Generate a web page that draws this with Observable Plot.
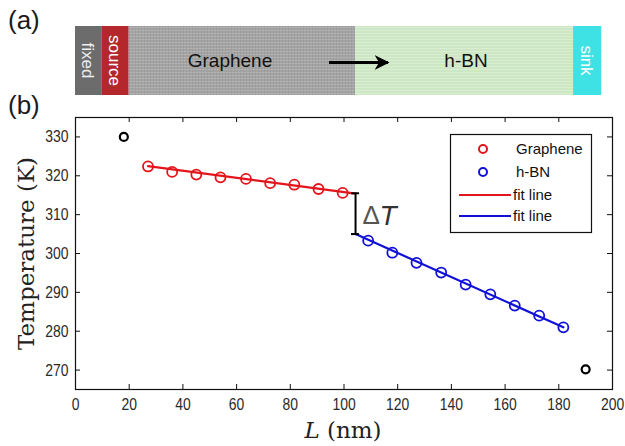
<!DOCTYPE html>
<html><head><meta charset="utf-8">
<script src="https://cdn.jsdelivr.net/npm/d3@7"></script>
<script src="https://cdn.jsdelivr.net/npm/@observablehq/plot@0.6"></script>
<style>html,body{margin:0;padding:0;background:#fff} #chart svg{display:block}</style>
</head><body><div id="chart"></div>
<script>
// ---- data ----
const xTicks = [0, 20, 40, 60, 80, 100, 120, 140, 160, 180, 200];
const yTicks = [270, 280, 290, 300, 310, 320, 330];
const grapheneL = [27, 36, 45, 54, 63.5, 72.5, 81.5, 90.5, 99.5];
const grapheneT = [322.4, 321.0, 320.3, 319.6, 319.2, 318.1, 317.7, 316.6, 315.6];
const hbnL = [109, 118, 127, 136.2, 145.3, 154.5, 163.6, 172.7, 181.7];
const hbnT = [303.3, 300.2, 297.6, 295.1, 292.0, 289.5, 286.6, 284.0, 281.0];
const bathL = [18, 190];
const bathT = [330, 270.2];
const fitGrapheneL = [27, 104.3];
const fitGrapheneT = [322.5, 315.4];
const fitHbnL = [104.3, 181.7];
const fitHbnT = [305.0, 281.0];
const interfaceL = 104.3;
const deltaT = [305.0, 315.5];
// schematic segments (in L units)
const segNames = ["fixed", "source", "Graphene", "h-BN", "sink"];
const segStart = [0, 10, 20, 104.3, 185.5];
const segEnd = [10, 20, 104.3, 185.5, 196];
const legendLabels = ["Graphene", "h-BN", "fit line", "fit line"];

const xDomain = [0, 200], yDomain = [265, 335];
const W = 625, H = 446, mT = 117, mB = 57, mL = 75, mR = 13;
const tickPx = 5;
const tx = tickPx * (xDomain[1] - xDomain[0]) / (W - mL - mR);
const ty = tickPx * (yDomain[1] - yDomain[0]) / (H - mT - mB);

const RED = "#e3141b", BLUE = "#1010d8";
const rows = (xs, ys) => xs.map((x, i) => ({x, y: ys[i]}));
const sansA = "'Liberation Sans', Arial, sans-serif";
const serifA = "'DejaVu Serif', 'Liberation Serif', serif";
const innerX = xTicks.slice(1, -1);

const plot = Plot.plot({
  width: W, height: H,
  marginTop: mT, marginBottom: mB, marginLeft: mL, marginRight: mR,
  style: {fontFamily: sansA, fontSize: "17px", color: "#2a2a2a", background: "#fff"},
  x: {domain: xDomain},
  y: {domain: yDomain},
  marks: [
    Plot.axisX({anchor: "bottom", ticks: xTicks, tickSize: 0, tickPadding: 8, label: null, tickFormat: d => String(d)}),
    Plot.axisY({anchor: "left", ticks: yTicks, tickSize: 0, tickPadding: 7, label: null, tickFormat: d => String(d)}),
    // inward ticks on all four sides
    Plot.ruleX(innerX, {x: d => d, y1: yDomain[0], y2: yDomain[0] + ty, stroke: "#111"}),
    Plot.ruleX(innerX, {x: d => d, y1: yDomain[1], y2: yDomain[1] - ty, stroke: "#111"}),
    Plot.ruleY(yTicks, {y: d => d, x1: xDomain[0], x2: xDomain[0] + tx, stroke: "#111"}),
    Plot.ruleY(yTicks, {y: d => d, x1: xDomain[1], x2: xDomain[1] - tx, stroke: "#111"}),
    Plot.frame({stroke: "#111", strokeWidth: 1.2}),
    Plot.line(rows(fitGrapheneL, fitGrapheneT), {x: "x", y: "y", stroke: RED, strokeWidth: 2.2}),
    Plot.line(rows(fitHbnL, fitHbnT), {x: "x", y: "y", stroke: BLUE, strokeWidth: 2.2}),
    Plot.dot(rows(grapheneL, grapheneT), {x: "x", y: "y", r: 5, stroke: RED, strokeWidth: 1.8, fill: "none"}),
    Plot.dot(rows(hbnL, hbnT), {x: "x", y: "y", r: 5, stroke: BLUE, strokeWidth: 1.8, fill: "none"}),
    Plot.dot(rows(bathL, bathT), {x: "x", y: "y", r: 4, stroke: "#000", strokeWidth: 2.2, fill: "none"}),
    Plot.ruleX([interfaceL], {y1: deltaT[0], y2: deltaT[1], stroke: "#000", strokeWidth: 2}),
    Plot.ruleY(deltaT, {x1: interfaceL - 1.5, x2: interfaceL + 1.5, y: d => d, stroke: "#000", strokeWidth: 2}),
    Plot.text(["\u0394"], {x: interfaceL, y: (deltaT[0] + deltaT[1]) / 2, dx: 7, dy: 2, textAnchor: "start", fontFamily: sansA, fontSize: 26, fill: "#555"}),
    Plot.text(["T"], {x: interfaceL, y: (deltaT[0] + deltaT[1]) / 2, dx: 24, dy: 2, textAnchor: "start", fontFamily: sansA, fontStyle: "italic", fontSize: 28, fill: "#333"}),
    Plot.text(["Temperature (K)"], {frameAnchor: "left", dx: -49, rotate: -90, textAnchor: "middle", fontFamily: serifA, fontSize: 23, fill: "#222"})
  ]
});
document.getElementById("chart").appendChild(plot);

const svg = d3.select(plot);
const sx = plot.scale("x");
const X = v => sx.apply(v);

// condense tick labels (reference uses a narrow face)
svg.selectAll('g[aria-label="x-axis tick label"] text, g[aria-label="y-axis tick label"] text').each(function() {
  const t = d3.select(this);
  const tr = t.attr("transform") || "";
  t.attr("transform", tr + " scale(0.82,1)");
});

// patterns
const defs = svg.append("defs");
const pg = defs.append("pattern").attr("id", "pg").attr("width", 3).attr("height", 3).attr("patternUnits", "userSpaceOnUse");
pg.append("rect").attr("width", 3).attr("height", 3).attr("fill", "#a3a3a3");
pg.append("rect").attr("width", 3).attr("height", 1).attr("fill", "#b4b4b4");
pg.append("rect").attr("width", 1).attr("height", 3).attr("fill", "#989898").attr("opacity", 0.5);
const ph = defs.append("pattern").attr("id", "ph").attr("width", 3).attr("height", 3).attr("patternUnits", "userSpaceOnUse");
ph.append("rect").attr("width", 3).attr("height", 3).attr("fill", "#cde7c4");
ph.append("rect").attr("width", 3).attr("height", 1).attr("fill", "#dbeed3");
const arrowDef = defs.append("marker").attr("id", "arrowhead").attr("viewBox", "0 0 10 10").attr("refX", 9).attr("refY", 5)
  .attr("markerWidth", 5).attr("markerHeight", 5).attr("orient", "auto");
arrowDef.append("path").attr("d", "M0,0 L10,5 L0,10 L3,5 Z").attr("fill", "#000");

// panel (a)
const segFill = ["#6c6c6c", "#b3272d", "url(#pg)", "url(#ph)", "#3fe2e4"];
const barTop = 26, barBot = 95, barMid = (barTop + barBot) / 2;
const gA = svg.append("g");
segNames.forEach((n, i) => {
  gA.append("rect").attr("x", X(segStart[i])).attr("y", barTop).attr("width", X(segEnd[i]) - X(segStart[i])).attr("height", barBot - barTop).attr("fill", segFill[i]);
});
[0, 1, 4].forEach(i => {
  const cx = (X(segStart[i]) + X(segEnd[i])) / 2;
  gA.append("text").attr("transform", `translate(${cx},${barMid}) rotate(90)`).attr("text-anchor", "middle").attr("dy", "0.35em")
    .attr("font-family", sansA).attr("font-size", 17).attr("fill", i === 0 ? "#eee" : "#fff").text(segNames[i]);
});
gA.append("text").attr("x", 230).attr("y", barMid).attr("dy", "0.35em").attr("text-anchor", "middle").attr("font-family", sansA).attr("font-size", 19).attr("fill", "#111").text(segNames[2]);
gA.append("text").attr("x", 466).attr("y", barMid).attr("dy", "0.35em").attr("text-anchor", "middle").attr("font-family", sansA).attr("font-size", 19).attr("fill", "#111").text(segNames[3]);
gA.append("line").attr("x1", 329).attr("x2", 388).attr("y1", barMid + 2).attr("y2", barMid + 2).attr("stroke", "#000").attr("stroke-width", 3).attr("marker-end", "url(#arrowhead)");

// panel labels
svg.append("text").attr("x", 8).attr("y", 29).attr("text-anchor", "start").attr("font-family", sansA).attr("font-size", 26).attr("fill", "#1a1a1a").text("(a)");
svg.append("text").attr("x", 8).attr("y", 114).attr("text-anchor", "start").attr("font-family", sansA).attr("font-size", 26).attr("fill", "#1a1a1a").text("(b)");

// x label
const xl = svg.append("text").attr("x", 343).attr("y", 438).attr("text-anchor", "middle").attr("font-family", serifA).attr("font-size", 23).attr("fill", "#222");
xl.append("tspan").attr("font-style", "italic").text("L");
xl.append("tspan").text(" (nm)");

// legend
const lg = svg.append("g").attr("font-family", sansA).attr("font-size", 15).attr("fill", "#111").attr("text-anchor", "start");
lg.append("rect").attr("x", 450.5).attr("y", 134.5).attr("width", 141).attr("height", 98).attr("fill", "#fff").attr("stroke", "#111").attr("stroke-width", 1.2);
const ly = [149, 172, 195, 216];
lg.append("circle").attr("cx", 483).attr("cy", ly[0]).attr("r", 4).attr("fill", "none").attr("stroke", RED).attr("stroke-width", 2);
lg.append("circle").attr("cx", 483).attr("cy", ly[1]).attr("r", 4).attr("fill", "none").attr("stroke", BLUE).attr("stroke-width", 2);
lg.append("line").attr("x1", 459).attr("x2", 511).attr("y1", ly[2]).attr("y2", ly[2]).attr("stroke", RED).attr("stroke-width", 2.2);
lg.append("line").attr("x1", 459).attr("x2", 511).attr("y1", ly[3]).attr("y2", ly[3]).attr("stroke", BLUE).attr("stroke-width", 2.2);
legendLabels.forEach((t, i) => {
  lg.append("text").attr("x", i < 2 ? 516 : 513).attr("y", ly[i]).attr("dy", "0.36em").attr("text-anchor", "start").text(t);
});
</script>
</body></html>
